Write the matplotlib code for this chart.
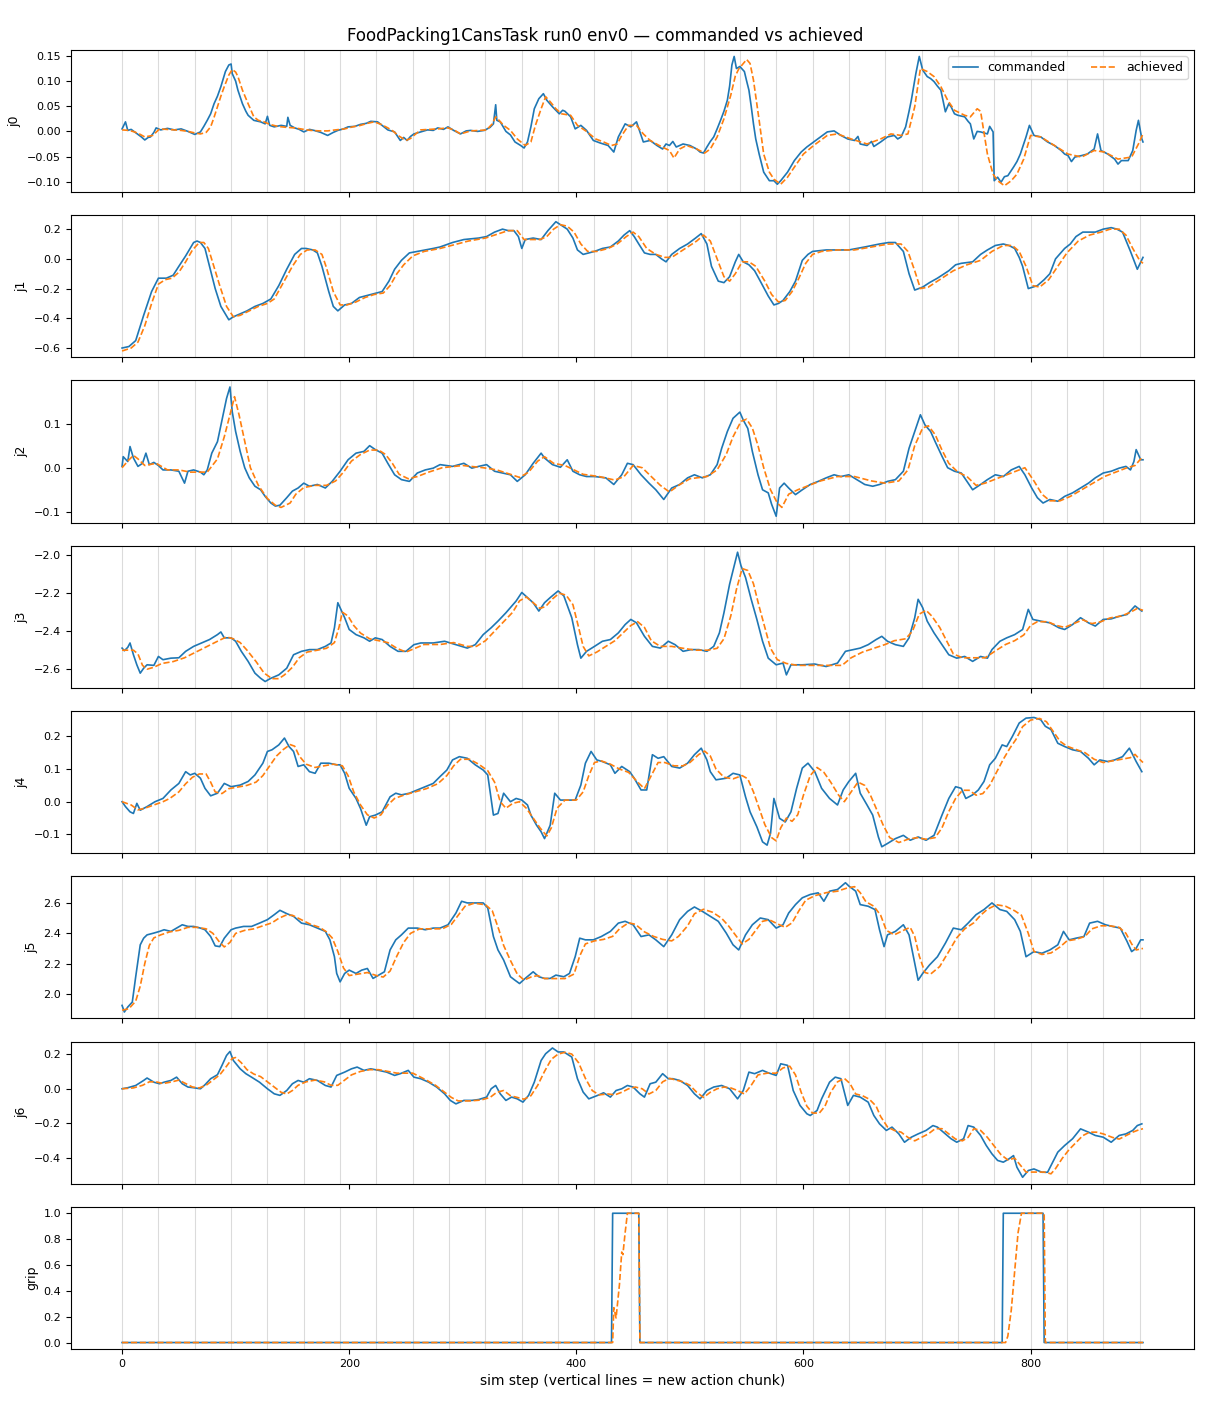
import matplotlib
matplotlib.use("Agg")
import matplotlib.pyplot as plt

# (sim step, value)
j0_cmd = [(0,0.005),(3,0.019),(5,0.002),(8,0.004),(11,-0.001),(14,-0.006),(17,-0.011),(20,-0.017),(23,-0.012),(25,-0.011),(28,-0.002),(30,0.007),(34,0.003),(40,0.006),(46,0.003),(52,0.005),(58,0.0),(64,-0.006),(69,-0.001),(72,0.010),(75,0.022),(78,0.035),(81,0.055),(84,0.070),(87,0.089),(91,0.119),(94,0.132),(96,0.134),(97,0.115),(100,0.100),(102,0.082),(106,0.055),(109,0.040),(111,0.032),(116,0.022),(122,0.019),(126,0.015),(128,0.030),(130,0.012),(134,0.009),(140,0.012),(145,0.010),(146,0.028),(148,0.012),(152,0.007),(156,0.004),(160,-0.001),(165,0.004),(169,0.002),(175,-0.002),(181,-0.008),(186,-0.002),(190,0.002),(195,0.005),(199,0.009),(205,0.010),(210,0.014),(215,0.016),(219,0.020),(225,0.019),(230,0.010),(234,0.003),(240,-0.001),(245,-0.018),(248,-0.012),(251,-0.018),(254,-0.010),(257,-0.005),(263,-0.001),(269,0.003),(274,0.002),(278,0.007),(283,0.004),(287,0.009),(292,0.002),(298,-0.005),(303,0.001),(307,0.002),(313,0.0),(319,0.002),(324,0.008),(327,0.015),(329,0.053),(330,0.022),(333,0.019),(338,0.000),(342,-0.007),(346,-0.021),(351,-0.028),(354,-0.033),(357,-0.021),(360,0.009),(363,0.045),(367,0.065),(371,0.075),(374,0.062),(379,0.049),(385,0.035),(388,0.042),(390,0.040),(395,0.029),(399,0.005),(404,0.012),(409,0.002),(415,-0.018),(421,-0.023),(428,-0.028),(433,-0.041),(437,-0.011),(443,0.015),(448,0.009),(453,0.019),(459,-0.021),(465,-0.018),(471,-0.028),(476,-0.035),(479,-0.025),(482,-0.028),(485,-0.020),(488,-0.031),(494,-0.025),(500,-0.028),(506,-0.035),(509,-0.041),(512,-0.043),(515,-0.031),(518,-0.020),(521,-0.011),(524,0.005),(527,0.022),(530,0.040),(533,0.062),(535,0.090),(537,0.132),(539,0.149),(541,0.125),(544,0.129),(548,0.119),(550,0.100),(552,0.082),(554,0.050),(556,0.015),(558,-0.015),(561,-0.045),(565,-0.081),(570,-0.098),(574,-0.098),(577,-0.105),(580,-0.098),(586,-0.081),(592,-0.058),(598,-0.041),(603,-0.031),(609,-0.021),(615,-0.011),(621,-0.001),(627,0.001),(633,-0.008),(639,-0.015),(645,-0.018),(648,-0.010),(650,-0.025),(656,-0.028),(660,-0.020),(662,-0.030),(668,-0.021),(674,-0.011),(680,-0.008),(683,-0.015),(686,-0.011),(690,0.009),(693,0.040),(695,0.062),(699,0.115),(702,0.149),(705,0.122),(709,0.109),(712,0.105),(715,0.099),(718,0.090),(721,0.082),(725,0.039),(728,0.055),(730,0.049),(733,0.035),(736,0.032),(742,0.029),(745,0.020),(747,0.015),(750,-0.015),(753,0.000),(756,-0.001),(762,-0.005),(764,0.010),(767,-0.001),(768,-0.098),(771,-0.091),(774,-0.101),(777,-0.090),(780,-0.088),(785,-0.071),(788,-0.060),(791,-0.045),(796,-0.011),(799,0.012),(803,-0.008),(809,-0.011),(815,-0.021),(821,-0.028),(827,-0.038),(830,-0.045),(833,-0.048),(836,-0.060),(839,-0.051),(845,-0.048),(850,-0.045),(856,-0.035),(859,-0.005),(862,-0.038),(868,-0.045),(874,-0.055),(877,-0.065),(880,-0.058),(886,-0.058),(890,-0.038),(893,0.002),(895,0.022),(898,-0.015),(899,-0.021)]
j0_ach = [(0,0.003),(6,0.002),(11,-0.001),(16,-0.006),(20,-0.011),(27,-0.008),(33,0.005),(40,0.004),(46,0.003),(52,0.002),(58,0.000),(64,-0.003),(69,-0.005),(74,-0.002),(78,0.009),(81,0.028),(84,0.049),(87,0.070),(90,0.089),(94,0.112),(97,0.123),(100,0.118),(102,0.109),(106,0.082),(111,0.055),(116,0.029),(120,0.022),(125,0.019),(130,0.014),(137,0.010),(145,0.008),(152,0.007),(160,0.004),(166,0.002),(174,0.001),(181,0.001),(188,0.003),(196,0.005),(203,0.009),(210,0.012),(216,0.016),(222,0.019),(228,0.014),(234,0.007),(239,0.000),(243,-0.008),(250,-0.018),(254,-0.014),(257,-0.008),(263,0.003),(270,0.004),(278,0.005),(287,0.007),(293,0.002),(298,-0.005),(307,0.001),(315,0.002),(321,0.003),(326,0.015),(329,0.029),(332,0.022),(336,0.012),(342,0.002),(348,-0.015),(355,-0.028),(360,-0.021),(364,0.012),(369,0.045),(373,0.069),(377,0.059),(382,0.045),(387,0.035),(395,0.032),(401,0.012),(409,0.000),(417,-0.015),(424,-0.021),(431,-0.028),(436,-0.025),(440,-0.008),(446,0.012),(453,0.012),(459,-0.005),(465,-0.018),(473,-0.028),(482,-0.038),(486,-0.053),(491,-0.035),(497,-0.028),(506,-0.035),(513,-0.043),(518,-0.035),(524,-0.011),(530,0.025),(536,0.072),(540,0.110),(543,0.124),(546,0.132),(550,0.143),(553,0.135),(556,0.102),(561,0.022),(565,-0.045),(570,-0.081),(574,-0.095),(580,-0.105),(586,-0.091),(592,-0.071),(600,-0.045),(609,-0.028),(621,-0.008),(630,-0.005),(642,-0.015),(656,-0.025),(668,-0.015),(677,-0.005),(686,-0.008),(692,-0.005),(698,0.049),(703,0.125),(709,0.119),(715,0.109),(721,0.089),(727,0.062),(733,0.042),(742,0.032),(747,0.029),(753,0.045),(756,0.040),(758,0.012),(762,-0.045),(767,-0.085),(771,-0.098),(777,-0.108),(783,-0.098),(788,-0.085),(794,-0.055),(800,-0.008),(809,-0.011),(821,-0.028),(833,-0.045),(845,-0.051),(856,-0.038),(865,-0.041),(877,-0.055),(889,-0.051),(895,-0.025),(899,-0.005)]

j1_cmd = [(0,-0.60),(6,-0.59),(12,-0.55),(19,-0.38),(26,-0.22),(32,-0.13),(39,-0.13),(45,-0.11),(50,-0.05),(56,0.02),(63,0.11),(66,0.12),(69,0.11),(73,0.07),(77,-0.05),(82,-0.20),(87,-0.32),(94,-0.41),(98,-0.39),(104,-0.37),(110,-0.35),(117,-0.32),(124,-0.30),(131,-0.27),(138,-0.18),(145,-0.07),(152,0.03),(158,0.07),(162,0.07),(168,0.06),(172,0.04),(176,-0.05),(182,-0.22),(186,-0.32),(190,-0.35),(196,-0.31),(202,-0.30),(209,-0.26),(214,-0.25),(219,-0.24),(224,-0.23),(229,-0.22),(235,-0.15),(240,-0.07),(246,-0.01),(253,0.04),(260,0.05),(267,0.06),(274,0.07),(280,0.08),(291,0.11),(301,0.13),(314,0.14),(321,0.15),(328,0.18),(335,0.20),(340,0.19),(345,0.19),(349,0.15),(352,0.07),(355,0.13),(362,0.14),(369,0.13),(375,0.19),(382,0.25),(386,0.23),(392,0.20),(397,0.14),(401,0.06),(406,0.03),(411,0.04),(416,0.05),(423,0.07),(430,0.08),(437,0.12),(442,0.16),(447,0.19),(451,0.15),(455,0.10),(460,0.04),(465,0.03),(470,0.03),(475,0.00),(479,-0.02),(484,0.03),(491,0.07),(498,0.10),(505,0.14),(510,0.17),(515,0.10),(519,-0.05),(525,-0.15),(530,-0.16),(535,-0.12),(540,-0.02),(543,0.03),(547,-0.02),(552,-0.04),(557,-0.08),(562,-0.15),(569,-0.25),(574,-0.31),(578,-0.30),(582,-0.28),(588,-0.22),(593,-0.15),(599,-0.01),(604,0.03),(608,0.05),(620,0.06),(630,0.06),(640,0.06),(654,0.08),(667,0.10),(675,0.11),(681,0.11),(688,0.05),(693,-0.10),(698,-0.21),(705,-0.19),(711,-0.16),(718,-0.13),(728,-0.08),(734,-0.04),(739,-0.03),(749,-0.02),(756,0.03),(762,0.06),(769,0.09),(776,0.10),(781,0.09),(786,0.07),(790,0.01),(793,-0.05),(798,-0.20),(806,-0.18),(812,-0.14),(817,-0.10),(822,0.00),(830,0.07),(835,0.10),(840,0.15),(846,0.18),(851,0.18),(857,0.18),(864,0.20),(871,0.21),(876,0.20),(881,0.18),(888,0.05),(894,-0.07),(899,0.01)]
j1_ach = [(0,-0.62),(8,-0.60),(14,-0.56),(20,-0.45),(26,-0.30),(32,-0.17),(38,-0.14),(44,-0.13),(50,-0.09),(56,-0.02),(62,0.06),(68,0.11),(72,0.11),(76,0.07),(80,-0.03),(86,-0.18),(92,-0.32),(98,-0.39),(104,-0.38),(112,-0.35),(120,-0.32),(128,-0.30),(134,-0.27),(142,-0.16),(150,-0.05),(157,0.03),(163,0.06),(170,0.06),(176,0.03),(180,-0.06),(186,-0.22),(192,-0.31),(198,-0.31),(206,-0.29),(214,-0.26),(222,-0.24),(230,-0.23),(236,-0.18),(242,-0.10),(248,-0.04),(256,0.02),(266,0.05),(280,0.07),(295,0.10),(305,0.12),(320,0.14),(332,0.17),(340,0.19),(348,0.19),(354,0.13),(360,0.13),(368,0.13),(374,0.15),(380,0.20),(386,0.23),(392,0.22),(398,0.18),(404,0.10),(410,0.05),(418,0.05),(428,0.07),(436,0.10),(444,0.15),(450,0.18),(455,0.15),(462,0.07),(470,0.03),(478,0.01),(484,0.01),(490,0.04),(498,0.08),(506,0.12),(512,0.16),(518,0.12),(524,0.00),(530,-0.12),(535,-0.15),(540,-0.10),(546,-0.02),(552,-0.02),(558,-0.05),(566,-0.15),(572,-0.24),(578,-0.29),(584,-0.28),(590,-0.22),(596,-0.13),(602,-0.03),(608,0.03),(616,0.05),(630,0.06),(645,0.06),(660,0.08),(675,0.10),(686,0.10),(692,0.05),(698,-0.08),(703,-0.20),(710,-0.19),(720,-0.14),(732,-0.08),(744,-0.04),(756,-0.01),(766,0.05),(776,0.09),(784,0.09),(790,0.05),(796,-0.05),(802,-0.18),(808,-0.19),(816,-0.14),(824,-0.05),(832,0.04),(842,0.12),(852,0.16),(862,0.18),(870,0.20),(878,0.20),(884,0.16),(890,0.07),(896,-0.01),(899,-0.03)]

j2_cmd = [(0,0.003),(1,0.025),(5,0.014),(7,0.048),(10,0.022),(14,0.003),(18,0.010),(21,0.033),(24,0.007),(28,0.012),(32,0.005),(36,-0.005),(43,-0.005),(50,-0.008),(55,-0.035),(58,-0.008),(63,-0.005),(69,-0.010),(72,-0.016),(75,-0.005),(79,0.033),(84,0.059),(89,0.120),(92,0.157),(95,0.183),(97,0.127),(100,0.082),(104,0.037),(108,0.000),(112,-0.023),(117,-0.042),(122,-0.050),(126,-0.065),(131,-0.080),(135,-0.087),(139,-0.085),(145,-0.068),(150,-0.053),(155,-0.046),(160,-0.035),(165,-0.042),(172,-0.038),(179,-0.046),(185,-0.031),(192,-0.008),(199,0.018),(206,0.033),(213,0.037),(218,0.050),(223,0.041),(229,0.033),(234,0.010),(240,-0.016),(246,-0.027),(253,-0.031),(260,-0.012),(267,-0.005),(274,-0.001),(280,0.007),(291,0.003),(301,0.010),(308,-0.001),(314,0.003),(321,0.007),(328,-0.008),(335,-0.012),(342,-0.016),(348,-0.031),(355,-0.016),(362,0.010),(369,0.033),(372,0.022),(379,0.007),(386,0.001),(392,0.018),(397,-0.008),(403,-0.016),(409,-0.020),(416,-0.020),(426,-0.023),(433,-0.038),(440,-0.016),(445,0.010),(450,0.007),(457,-0.016),(464,-0.035),(470,-0.050),(477,-0.072),(484,-0.046),(491,-0.038),(498,-0.023),(504,-0.016),(511,-0.023),(518,-0.016),(524,0.007),(528,0.044),(533,0.082),(538,0.112),(544,0.126),(547,0.108),(551,0.089),(555,0.037),(560,-0.016),(564,-0.050),(569,-0.057),(572,-0.083),(576,-0.110),(579,-0.046),(583,-0.035),(587,-0.046),(593,-0.061),(599,-0.050),(606,-0.038),(613,-0.031),(620,-0.023),(627,-0.016),(633,-0.020),(640,-0.016),(647,-0.027),(654,-0.038),(661,-0.042),(667,-0.038),(674,-0.031),(681,-0.027),(688,-0.008),(693,0.044),(698,0.082),(703,0.120),(707,0.097),(712,0.082),(716,0.059),(722,0.026),(727,0.000),(733,-0.008),(739,-0.012),(744,-0.031),(749,-0.050),(756,-0.038),(762,-0.027),(769,-0.016),(776,-0.020),(783,-0.005),(790,0.003),(795,-0.016),(801,-0.046),(806,-0.068),(811,-0.080),(817,-0.072),(824,-0.076),(830,-0.065),(837,-0.057),(844,-0.046),(851,-0.035),(857,-0.023),(864,-0.012),(871,-0.008),(878,-0.001),(884,0.003),(888,-0.005),(891,0.014),(893,0.041),(897,0.018),(899,0.018)]
j2_ach = [(0,0.0),(5,0.015),(10,0.028),(14,0.020),(20,0.005),(30,0.010),(40,-0.005),(50,-0.005),(60,-0.010),(75,-0.010),(84,0.020),(90,0.070),(96,0.130),(99,0.161),(103,0.120),(108,0.060),(113,0.0),(120,-0.040),(128,-0.070),(135,-0.085),(140,-0.090),(148,-0.080),(153,-0.060),(160,-0.045),(170,-0.040),(180,-0.040),(188,-0.030),(195,-0.010),(202,0.015),(210,0.030),(218,0.040),(226,0.040),(232,0.030),(238,0.010),(244,-0.015),(252,-0.025),(260,-0.020),(270,-0.010),(282,0.0),(300,0.005),(318,0.0),(330,-0.005),(342,-0.015),(350,-0.022),(358,-0.010),(366,0.015),(372,0.025),(380,0.010),(390,0.005),(398,-0.005),(406,-0.015),(420,-0.020),(434,-0.028),(442,-0.020),(450,0.005),(458,0.0),(466,-0.020),(474,-0.040),(482,-0.055),(490,-0.040),(500,-0.025),(515,-0.020),(524,-0.005),(532,0.030),(538,0.070),(545,0.105),(550,0.110),(555,0.090),(560,0.050),(565,0.0),(571,-0.050),(577,-0.080),(581,-0.090),(587,-0.060),(595,-0.050),(605,-0.040),(615,-0.030),(630,-0.020),(645,-0.020),(660,-0.030),(672,-0.035),(684,-0.030),(692,-0.005),(698,0.050),(705,0.090),(710,0.095),(716,0.075),(722,0.040),(728,0.010),(736,-0.010),(744,-0.020),(752,-0.040),(760,-0.035),(770,-0.025),(780,-0.015),(790,-0.005),(795,0.0),(803,-0.030),(810,-0.060),(817,-0.075),(826,-0.075),(835,-0.065),(845,-0.050),(855,-0.035),(865,-0.020),(875,-0.010),(885,0.0),(892,0.005),(897,0.020),(899,0.018)]

j3_cmd = [(0,-2.489),(2,-2.503),(5,-2.485),(7,-2.462),(10,-2.524),(13,-2.577),(16,-2.621),(19,-2.595),(22,-2.577),(28,-2.580),(32,-2.533),(36,-2.550),(43,-2.542),(50,-2.540),(56,-2.506),(63,-2.480),(70,-2.462),(77,-2.444),(84,-2.418),(87,-2.404),(90,-2.435),(96,-2.435),(100,-2.453),(105,-2.506),(111,-2.559),(117,-2.621),(122,-2.648),(126,-2.665),(131,-2.648),(138,-2.630),(145,-2.595),(151,-2.524),(158,-2.506),(165,-2.497),(172,-2.497),(179,-2.480),(184,-2.462),(187,-2.382),(190,-2.250),(192,-2.276),(196,-2.329),(200,-2.391),(206,-2.418),(213,-2.435),(218,-2.453),(223,-2.435),(229,-2.444),(236,-2.480),(243,-2.506),(250,-2.506),(257,-2.471),(263,-2.462),(274,-2.462),(284,-2.453),(294,-2.471),(304,-2.489),(311,-2.471),(318,-2.418),(325,-2.382),(331,-2.347),(338,-2.303),(347,-2.241),(352,-2.196),(357,-2.223),(362,-2.250),(367,-2.294),(372,-2.250),(377,-2.223),(384,-2.188),(389,-2.214),(396,-2.329),(401,-2.471),(404,-2.542),(409,-2.506),(416,-2.480),(423,-2.453),(430,-2.444),(437,-2.409),(443,-2.365),(448,-2.338),(453,-2.356),(460,-2.427),(467,-2.480),(474,-2.489),(481,-2.453),(487,-2.471),(494,-2.506),(501,-2.497),(508,-2.497),(515,-2.506),(521,-2.480),(526,-2.409),(530,-2.303),(535,-2.152),(538,-2.081),(542,-1.984),(545,-2.055),(549,-2.117),(554,-2.232),(559,-2.338),(564,-2.453),(569,-2.542),(576,-2.577),(582,-2.568),(585,-2.630),(589,-2.577),(599,-2.577),(610,-2.573),(620,-2.586),(630,-2.568),(637,-2.506),(644,-2.497),(650,-2.489),(657,-2.471),(664,-2.444),(669,-2.427),(674,-2.453),(681,-2.471),(688,-2.480),(693,-2.435),(698,-2.329),(701,-2.232),(705,-2.276),(709,-2.347),(715,-2.409),(722,-2.471),(728,-2.524),(735,-2.542),(742,-2.533),(749,-2.559),(756,-2.533),(762,-2.542),(766,-2.497),(773,-2.453),(779,-2.435),(786,-2.418),(793,-2.391),(798,-2.285),(802,-2.338),(809,-2.347),(817,-2.356),(825,-2.382),(830,-2.391),(837,-2.365),(844,-2.329),(851,-2.356),(857,-2.373),(864,-2.338),(871,-2.335),(879,-2.320),(885,-2.312),(892,-2.267),(898,-2.294)]
j3_ach = [(0,-2.50),(10,-2.50),(14,-2.52),(18,-2.58),(22,-2.60),(28,-2.59),(35,-2.57),(45,-2.56),(55,-2.54),(65,-2.51),(75,-2.48),(85,-2.45),(92,-2.43),(98,-2.44),(104,-2.46),(110,-2.50),(118,-2.56),(125,-2.62),(132,-2.65),(138,-2.65),(143,-2.63),(150,-2.59),(156,-2.54),(163,-2.51),(172,-2.50),(180,-2.49),(187,-2.46),(191,-2.38),(194,-2.30),(199,-2.32),(204,-2.37),(210,-2.41),(218,-2.44),(226,-2.45),(234,-2.46),(242,-2.49),(250,-2.51),(258,-2.49),(266,-2.47),(280,-2.47),(292,-2.46),(304,-2.48),(312,-2.48),(320,-2.45),(328,-2.40),(336,-2.35),(344,-2.30),(350,-2.24),(356,-2.22),(362,-2.25),(368,-2.28),(373,-2.27),(379,-2.23),(385,-2.20),(391,-2.21),(397,-2.26),(402,-2.38),(406,-2.48),(411,-2.53),(418,-2.51),(426,-2.48),(434,-2.45),(441,-2.41),(448,-2.37),(454,-2.35),(460,-2.38),(466,-2.45),(474,-2.48),(484,-2.48),(494,-2.49),(505,-2.50),(516,-2.50),(524,-2.49),(530,-2.44),(536,-2.32),(541,-2.18),(546,-2.07),(551,-2.08),(556,-2.15),(561,-2.27),(566,-2.38),(571,-2.49),(577,-2.55),(585,-2.57),(595,-2.58),(610,-2.58),(625,-2.58),(634,-2.58),(642,-2.54),(652,-2.51),(662,-2.49),(672,-2.47),(680,-2.45),(690,-2.44),(696,-2.40),(702,-2.31),(708,-2.29),(713,-2.32),(720,-2.38),(726,-2.45),(732,-2.52),(740,-2.54),(750,-2.54),(760,-2.54),(770,-2.50),(778,-2.47),(786,-2.45),(794,-2.42),(800,-2.37),(806,-2.35),(815,-2.35),(823,-2.37),(830,-2.38),(838,-2.36),(846,-2.34),(854,-2.36),(862,-2.35),(870,-2.33),(880,-2.32),(888,-2.30),(894,-2.28),(899,-2.29)]

j4_cmd = [(0,0.0),(3,-0.015),(7,-0.031),(10,-0.036),(13,-0.005),(16,-0.026),(22,-0.015),(29,0.0),(36,0.010),(43,0.036),(50,0.056),(56,0.092),(60,0.082),(64,0.087),(69,0.072),(73,0.041),(78,0.018),(84,0.026),(90,0.056),(96,0.046),(104,0.051),(111,0.062),(117,0.082),(124,0.118),(128,0.154),(132,0.159),(138,0.174),(143,0.195),(147,0.169),(151,0.154),(155,0.108),(160,0.113),(165,0.092),(170,0.087),(175,0.118),(182,0.118),(189,0.113),(192,0.113),(196,0.087),(200,0.041),(206,0.010),(210,-0.021),(215,-0.072),(218,-0.046),(223,-0.041),(229,-0.031),(236,0.015),(241,0.026),(246,0.021),(253,0.026),(260,0.036),(267,0.046),(274,0.056),(280,0.077),(286,0.097),(291,0.128),(297,0.138),(304,0.133),(311,0.113),(318,0.097),(322,0.082),(327,-0.041),(331,-0.036),(336,0.026),(342,0.0),(347,0.010),(352,0.005),(357,-0.010),(360,-0.041),(365,-0.072),(369,-0.092),(372,-0.113),(377,-0.072),(381,0.026),(386,0.005),(392,0.005),(399,0.005),(404,0.051),(408,0.118),(413,0.154),(418,0.128),(423,0.123),(430,0.113),(434,0.087),(440,0.108),(447,0.092),(451,0.072),(457,0.036),(462,0.036),(467,0.144),(472,0.133),(477,0.138),(484,0.108),(491,0.103),(498,0.118),(504,0.144),(510,0.164),(515,0.128),(518,0.092),(523,0.067),(532,0.072),(538,0.087),(544,0.082),(549,0.015),(553,-0.031),(559,-0.077),(564,-0.123),(568,-0.133),(571,-0.097),(574,0.010),(579,-0.051),(584,-0.062),(589,-0.031),(594,0.041),(599,0.103),(604,0.118),(610,0.092),(616,0.041),(623,0.010),(630,-0.010),(635,0.036),(640,0.062),(646,0.087),(650,0.026),(656,-0.010),(661,-0.041),(666,-0.108),(669,-0.138),(674,-0.128),(681,-0.113),(688,-0.103),(694,-0.118),(701,-0.108),(708,-0.118),(715,-0.103),(722,-0.041),(728,0.010),(734,0.046),(739,0.041),(743,0.010),(749,0.021),(754,0.036),(759,0.062),(764,0.113),(769,0.133),(775,0.174),(779,0.169),(784,0.200),(790,0.241),(796,0.256),(803,0.258),(809,0.251),(813,0.231),(818,0.221),(824,0.179),(830,0.169),(837,0.159),(844,0.154),(851,0.133),(856,0.113),(861,0.128),(868,0.123),(874,0.128),(881,0.138),(887,0.164),(890,0.144),(893,0.123),(898,0.092)]
j4_ach = [(0,0.0),(8,-0.010),(14,-0.025),(20,-0.020),(28,-0.010),(36,0.0),(42,0.010),(50,0.030),(56,0.055),(62,0.075),(68,0.085),(74,0.085),(78,0.060),(82,0.030),(88,0.025),(94,0.040),(102,0.045),(110,0.050),(118,0.060),(124,0.080),(130,0.110),(136,0.140),(142,0.160),(148,0.175),(152,0.170),(156,0.140),(162,0.115),(170,0.105),(178,0.110),(186,0.115),(194,0.110),(199,0.080),(204,0.030),(210,-0.010),(216,-0.040),(222,-0.050),(228,-0.040),(234,-0.010),(240,0.010),(248,0.020),(258,0.030),(268,0.040),(278,0.055),(286,0.080),(292,0.110),(298,0.130),(306,0.130),(314,0.115),(322,0.095),(328,0.060),(333,0.0),(338,-0.020),(344,-0.005),(350,0.0),(356,-0.020),(362,-0.050),(368,-0.080),(374,-0.105),(378,-0.080),(383,-0.020),(390,0.005),(400,0.005),(406,0.030),(411,0.080),(416,0.120),(422,0.125),(430,0.115),(438,0.100),(446,0.090),(454,0.060),(460,0.040),(466,0.080),(472,0.120),(478,0.120),(486,0.110),(494,0.110),(500,0.120),(508,0.145),(513,0.155),(518,0.140),(523,0.100),(530,0.075),(538,0.070),(546,0.080),(551,0.070),(556,0.030),(561,-0.020),(566,-0.070),(572,-0.110),(576,-0.120),(580,-0.080),(585,-0.050),(590,-0.060),(595,-0.040),(600,0.020),(606,0.080),(612,0.105),(618,0.090),(624,0.060),(631,0.020),(636,0.0),(642,0.030),(648,0.060),(654,0.050),(659,0.020),(664,-0.020),(670,-0.070),(676,-0.110),(684,-0.125),(692,-0.115),(700,-0.110),(708,-0.115),(716,-0.110),(722,-0.080),(728,-0.030),(734,0.010),(740,0.035),(746,0.035),(752,0.020),(758,0.025),(764,0.050),(770,0.090),(776,0.130),(782,0.165),(787,0.190),(793,0.230),(800,0.250),(808,0.255),(814,0.245),(820,0.215),(826,0.185),(832,0.170),(840,0.160),(848,0.150),(856,0.130),(864,0.120),(872,0.125),(880,0.130),(888,0.135),(892,0.145),(896,0.130),(899,0.120)]

j5_cmd = [(0,1.922),(2,1.878),(5,1.911),(9,1.944),(12,2.112),(16,2.324),(19,2.368),(22,2.390),(28,2.402),(33,2.413),(37,2.424),(43,2.413),(48,2.435),(53,2.457),(58,2.446),(63,2.446),(69,2.435),(73,2.424),(78,2.379),(82,2.317),(86,2.312),(90,2.368),(96,2.424),(100,2.435),(107,2.446),(114,2.446),(121,2.468),(128,2.491),(134,2.524),(139,2.553),(145,2.531),(151,2.513),(158,2.468),(165,2.457),(172,2.435),(179,2.413),(183,2.357),(187,2.245),(189,2.134),(192,2.078),(196,2.134),(200,2.156),(206,2.134),(211,2.156),(216,2.167),(221,2.101),(226,2.123),(231,2.145),(236,2.290),(241,2.357),(246,2.390),(252,2.435),(260,2.435),(267,2.424),(274,2.435),(280,2.435),(287,2.457),(294,2.535),(299,2.613),(304,2.602),(311,2.602),(318,2.602),(322,2.569),(327,2.379),(331,2.290),(336,2.223),(342,2.112),(346,2.089),(350,2.067),(355,2.101),(362,2.145),(367,2.112),(372,2.101),(377,2.101),(382,2.123),(389,2.112),(394,2.134),(399,2.245),(403,2.368),(408,2.357),(415,2.357),(422,2.379),(430,2.413),(437,2.468),(443,2.480),(450,2.457),(457,2.379),(464,2.390),(470,2.357),(477,2.312),(484,2.390),(491,2.491),(498,2.546),(504,2.575),(511,2.546),(518,2.513),(525,2.480),(532,2.402),(538,2.324),(543,2.290),(549,2.390),(555,2.457),(562,2.502),(569,2.491),(576,2.435),(582,2.457),(587,2.535),(593,2.591),(599,2.636),(606,2.658),(613,2.669),(618,2.613),(623,2.680),(630,2.691),(637,2.736),(640,2.714),(646,2.680),(650,2.591),(657,2.580),(663,2.558),(667,2.424),(671,2.312),(674,2.390),(681,2.413),(688,2.457),(693,2.390),(698,2.201),(701,2.089),(705,2.134),(711,2.190),(718,2.245),(725,2.335),(732,2.435),(739,2.424),(745,2.468),(752,2.524),(759,2.558),(766,2.602),(773,2.558),(779,2.546),(786,2.491),(791,2.413),(796,2.245),(803,2.279),(810,2.268),(817,2.290),(824,2.324),(829,2.413),(834,2.357),(840,2.368),(847,2.379),(852,2.468),(859,2.480),(866,2.457),(872,2.446),(879,2.435),(885,2.346),(889,2.279),(893,2.301),(897,2.357),(899,2.357)]
j5_ach = [(0,1.89),(6,1.90),(12,1.95),(16,2.05),(20,2.20),(24,2.32),(28,2.37),(34,2.39),(42,2.41),(50,2.42),(58,2.44),(66,2.44),(74,2.43),(80,2.40),(86,2.34),(90,2.31),(95,2.34),(100,2.40),(108,2.42),(116,2.43),(124,2.45),(132,2.47),(138,2.50),(144,2.52),(150,2.52),(158,2.49),(166,2.46),(174,2.44),(180,2.41),(185,2.37),(190,2.28),(195,2.17),(200,2.12),(208,2.13),(216,2.14),(224,2.12),(230,2.11),(236,2.15),(242,2.25),(248,2.34),(254,2.40),(262,2.43),(272,2.43),(282,2.43),(290,2.46),(296,2.52),(302,2.58),(310,2.60),(320,2.59),(326,2.55),(332,2.42),(336,2.32),(342,2.22),(348,2.13),(354,2.09),(360,2.11),(366,2.12),(372,2.10),(380,2.10),(390,2.10),(398,2.13),(403,2.25),(408,2.33),(416,2.35),(424,2.36),(432,2.38),(438,2.43),(446,2.47),(452,2.46),(460,2.41),(468,2.38),(476,2.36),(484,2.35),(490,2.38),(498,2.45),(504,2.53),(512,2.56),(520,2.54),(528,2.50),(534,2.45),(541,2.38),(546,2.33),(552,2.36),(558,2.42),(564,2.48),(570,2.49),(578,2.46),(584,2.44),(590,2.47),(596,2.55),(602,2.62),(610,2.65),(620,2.67),(630,2.68),(638,2.70),(645,2.71),(650,2.67),(655,2.61),(662,2.58),(668,2.52),(673,2.42),(680,2.39),(688,2.42),(694,2.44),(698,2.38),(702,2.25),(707,2.14),(712,2.13),(720,2.18),(728,2.28),(735,2.37),(742,2.43),(750,2.47),(756,2.52),(762,2.56),(770,2.59),(778,2.58),(786,2.55),(792,2.52),(798,2.40),(803,2.28),(810,2.26),(818,2.27),(826,2.31),(832,2.35),(840,2.36),(848,2.38),(854,2.43),(862,2.45),(870,2.45),(878,2.44),(884,2.40),(889,2.33),(893,2.29),(899,2.30)]

j6_cmd = [(0,0.0),(5,0.006),(12,0.019),(19,0.048),(22,0.062),(28,0.038),(33,0.029),(37,0.038),(43,0.048),(48,0.067),(53,0.029),(58,0.010),(63,0.006),(69,0.0),(73,0.023),(78,0.058),(84,0.081),(88,0.135),(92,0.192),(95,0.215),(98,0.163),(104,0.115),(109,0.087),(114,0.067),(121,0.038),(128,0.0),(134,-0.029),(139,-0.038),(145,-0.010),(150,0.029),(155,0.048),(160,0.038),(165,0.058),(172,0.048),(179,0.019),(184,0.010),(189,0.077),(196,0.096),(202,0.115),(207,0.125),(213,0.106),(219,0.115),(226,0.106),(233,0.096),(240,0.077),(245,0.087),(252,0.106),(257,0.067),(263,0.058),(270,0.038),(277,0.010),(284,-0.029),(289,-0.067),(294,-0.087),(301,-0.067),(308,-0.067),(314,-0.062),(321,-0.048),(325,0.0),(329,0.019),(333,-0.029),(338,-0.067),(343,-0.048),(348,-0.058),(353,-0.077),(358,-0.038),(363,0.038),(369,0.163),(373,0.202),(379,0.235),(384,0.212),(389,0.212),(396,0.183),(401,0.058),(406,-0.019),(411,-0.058),(415,-0.048),(420,-0.035),(424,-0.023),(430,-0.048),(435,-0.010),(440,0.0),(445,0.019),(450,0.010),(456,-0.029),(460,-0.048),(465,0.029),(470,0.038),(476,0.087),(481,0.058),(485,0.058),(491,0.048),(498,0.019),(504,-0.029),(509,-0.058),(515,-0.010),(521,0.010),(528,0.019),(535,0.0),(542,-0.058),(547,-0.010),(552,0.096),(557,0.087),(564,0.106),(569,0.092),(576,0.077),(580,0.144),(586,0.135),(591,-0.010),(597,-0.096),(603,-0.144),(606,-0.154),(612,-0.125),(616,-0.058),(623,0.038),(628,0.067),(633,0.058),(639,-0.096),(644,-0.038),(650,-0.048),(657,-0.077),(662,-0.154),(667,-0.202),(673,-0.240),(678,-0.221),(684,-0.260),(689,-0.308),(695,-0.279),(701,-0.260),(708,-0.240),(714,-0.212),(718,-0.221),(725,-0.260),(730,-0.288),(735,-0.308),(741,-0.288),(745,-0.212),(750,-0.221),(756,-0.269),(761,-0.327),(766,-0.375),(771,-0.413),(776,-0.423),(781,-0.404),(785,-0.385),(788,-0.452),(793,-0.510),(798,-0.471),(803,-0.462),(810,-0.481),(815,-0.481),(818,-0.442),(824,-0.365),(830,-0.327),(837,-0.288),(844,-0.231),(851,-0.250),(857,-0.269),(864,-0.279),(871,-0.308),(878,-0.269),(884,-0.260),(890,-0.240),(894,-0.212),(898,-0.202)]
j6_ach = [(0,0.0),(10,0.005),(18,0.020),(24,0.040),(30,0.040),(36,0.030),(44,0.040),(50,0.050),(56,0.030),(62,0.010),(68,0.005),(74,0.020),(80,0.050),(86,0.080),(92,0.130),(97,0.175),(100,0.180),(105,0.150),(110,0.110),(116,0.085),(122,0.070),(128,0.040),(134,0.010),(140,-0.020),(145,-0.030),(150,-0.010),(155,0.020),(162,0.040),(170,0.050),(178,0.040),(184,0.020),(190,0.020),(196,0.050),(202,0.080),(210,0.100),(218,0.110),(226,0.110),(234,0.100),(242,0.090),(250,0.090),(256,0.090),(262,0.070),(268,0.050),(276,0.020),(284,-0.020),(290,-0.050),(296,-0.070),(306,-0.070),(316,-0.065),(324,-0.050),(330,-0.020),(336,-0.010),(342,-0.040),(348,-0.050),(354,-0.060),(360,-0.040),(366,0.020),(372,0.100),(378,0.170),(384,0.200),(390,0.210),(396,0.200),(402,0.150),(408,0.060),(414,-0.010),(420,-0.035),(428,-0.030),(434,-0.035),(440,-0.020),(446,0.0),(452,0.010),(458,0.0),(464,-0.030),(470,-0.010),(476,0.040),(482,0.060),(488,0.050),(494,0.040),(500,0.020),(506,-0.020),(512,-0.050),(518,-0.020),(524,0.0),(530,0.010),(536,0.005),(542,-0.010),(548,-0.030),(554,0.020),(560,0.080),(568,0.090),(576,0.090),(582,0.120),(588,0.130),(593,0.080),(598,-0.020),(603,-0.100),(608,-0.140),(614,-0.140),(619,-0.100),(624,-0.020),(630,0.040),(636,0.060),(641,0.030),(646,-0.030),(652,-0.040),(658,-0.060),(664,-0.100),(668,-0.160),(674,-0.220),(680,-0.240),(686,-0.250),(692,-0.280),(698,-0.300),(704,-0.280),(710,-0.260),(716,-0.230),(722,-0.230),(728,-0.260),(734,-0.290),(740,-0.300),(745,-0.280),(750,-0.230),(756,-0.240),(762,-0.280),(768,-0.330),(774,-0.380),(780,-0.410),(786,-0.400),(791,-0.440),(796,-0.480),(804,-0.480),(812,-0.480),(818,-0.490),(822,-0.460),(828,-0.400),(834,-0.350),(840,-0.310),(846,-0.270),(852,-0.250),(858,-0.250),(864,-0.260),(872,-0.280),(878,-0.290),(884,-0.270),(890,-0.250),(894,-0.240),(899,-0.230)]

grip_cmd = [(0,0.0),(431,0.0),(432,1.0),(455,1.0),(456,0.0),(775,0.0),(776,1.0),(811,1.0),(812,0.0),(899,0.0)]
grip_ach = [(0,0.0),(432,0.0),(433,0.27),(435,0.19),(438,0.45),(440,0.70),(441,0.68),(443,0.85),(445,1.0),(455,1.0),(456,0.0),(778,0.0),(780,0.05),(783,0.25),(786,0.55),(789,0.85),(792,1.0),(812,1.0),(813,0.0),(899,0.0)]

# first step of each action chunk
chunk_starts = [0, 32, 64, 96, 128, 160, 192, 224, 256, 288, 320, 352, 384, 416, 448,
                480, 512, 544, 576, 608, 640, 672, 704, 736, 768, 800, 832, 864, 896]

panels = [("j0", j0_cmd, j0_ach), ("j1", j1_cmd, j1_ach), ("j2", j2_cmd, j2_ach),
          ("j3", j3_cmd, j3_ach), ("j4", j4_cmd, j4_ach), ("j5", j5_cmd, j5_ach),
          ("j6", j6_cmd, j6_ach), ("grip", grip_cmd, grip_ach)]

fig, axes = plt.subplots(8, 1, figsize=(12.1, 14.08), dpi=100, sharex=True)
fig.subplots_adjust(left=0.0587, right=0.9868, top=0.9645, bottom=0.0419, hspace=0.162)

for ax, (name, cmd, ach) in zip(axes, panels):
    for c in chunk_starts:
        ax.axvline(c, color="0.86", lw=0.8, zorder=0)
    ct, cv = zip(*cmd)
    at, av = zip(*ach)
    ax.plot(ct, cv, color="tab:blue", lw=1.2, label="commanded")
    ax.plot(at, av, color="tab:orange", lw=1.2, ls="--", label="achieved")
    ax.set_ylabel(name, fontsize=9)
    ax.tick_params(labelsize=8)

axes[0].legend(loc="upper right", ncol=2, fontsize=9)
axes[-1].set_xlabel("sim step (vertical lines = new action chunk)", fontsize=10)
fig.suptitle("FoodPacking1CansTask run0 env0 \u2014 commanded vs achieved", fontsize=12, y=0.9744, va="center")

fig.savefig("out.png")
